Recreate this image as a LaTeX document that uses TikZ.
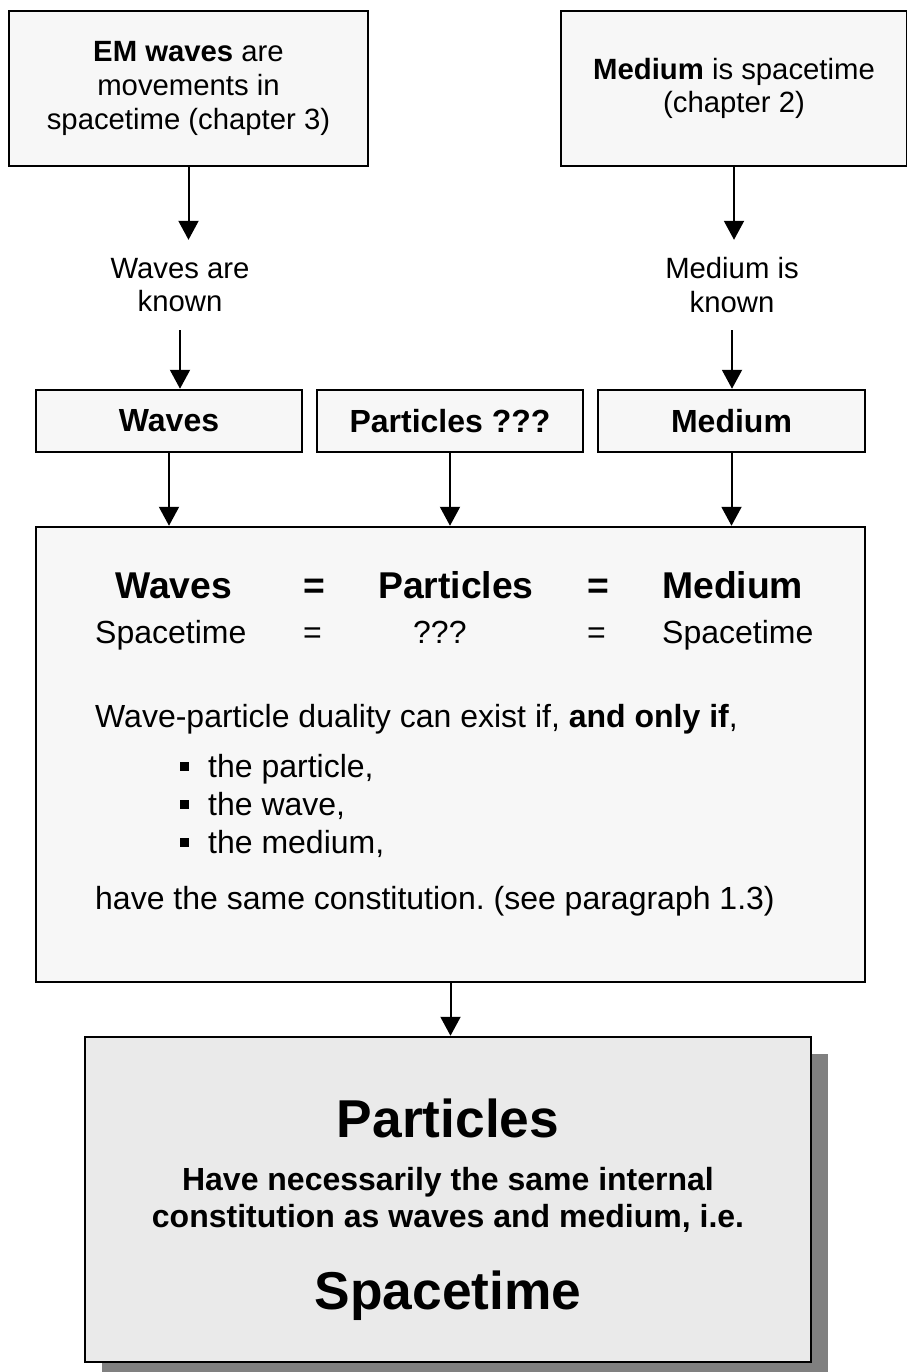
\documentclass[tikz,border=0pt]{standalone}
\usepackage{fontspec}
\setmainfont{Liberation Sans}
\usetikzlibrary{arrows.meta,shadows}
\definecolor{boxfill}{HTML}{F7F7F7}
\definecolor{bigfill}{HTML}{EAEAEA}
\definecolor{shadowgray}{HTML}{808080}
\newcommand{\fsA}{\fontsize{29.3pt}{33.7pt}\selectfont}
\newcommand{\fsB}{\fontsize{32pt}{36.8pt}\selectfont}
\newcommand{\fsC}{\fontsize{37.3pt}{43pt}\selectfont}
\newcommand{\fsD}{\fontsize{53.3pt}{61pt}\selectfont}
\newcommand{\sqbullet}{\makebox[28pt][l]{\raisebox{6pt}{\rule{9pt}{9pt}}}}
\frenchspacing
\begin{document}
\begin{tikzpicture}[x=1pt,y=-1pt,
  box/.style={draw=black,line width=2.5pt,fill=boxfill,inner sep=0pt},
  arr/.style={line width=2pt,-{Triangle[length=19pt,width=20pt]}},
  txt/.style={inner sep=0pt,anchor=base west},
  ctxt/.style={inner sep=0pt,anchor=base},
  lab/.style={minimum height=90pt,inner sep=0pt,align=center,font=\fsA}]
\useasboundingbox[fill=white] (0,0) rectangle (906,1372);

% top boxes
\node[box,minimum width=359pt,minimum height=155pt,align=center,font=\fsA] (em) at (188.5,88.5)
  {\textbf{EM waves} are\\movements in\\spacetime (chapter 3)};
\node[box,minimum width=346pt,minimum height=155pt,align=center,font=\fsA] (med) at (734,88.5)
  {\textbf{Medium} is spacetime\\(chapter 2)};

% labels
\node[lab] (lw) at (180,285) {Waves are\\known};
\node[lab] (lm) at (732,285) {Medium is\\known};

% row boxes
\node[box,minimum width=266pt,minimum height=62pt,font=\fsB\bfseries] (rw) at (169,421) {Waves};
\node[box,minimum width=266pt,minimum height=62pt,font=\fsB\bfseries] (rp) at (450,421) {Particles ???};
\node[box,minimum width=267pt,minimum height=62pt,font=\fsB\bfseries] (rm) at (731.5,421) {Medium};

% big box
\node[box,minimum width=829pt,minimum height=455pt] (big) at (450.5,754.5) {};

% bottom box
\node[box,fill=bigfill,minimum width=726pt,minimum height=325pt,
  drop shadow={shadow xshift=17pt,shadow yshift=-17pt,fill=shadowgray,opacity=1}] (part) at (448,1199.5) {};

% arrows
\draw[arr] (em.south) -- (em.south |- lw.north);
\draw[arr] (lw.south) -- (lw.south |- rw.north);
\draw[arr] (med.south) -- (med.south |- lm.north);
\draw[arr] (lm.south) -- (lm.south |- rm.north);
\draw[arr] (rw.south) -- (rw.south |- big.north);
\draw[arr] (rp.south) -- (rp.south |- big.north);
\draw[arr] (rm.south) -- (rm.south |- big.north);
\draw[arr] (big.south) -- (big.south |- part.north);

% big box text
\node[txt,font=\fsC\bfseries] (t1) at (115,598) {Waves};
\node[txt,font=\fsC\bfseries] (t2) at (303,598) {=};
\node[txt,font=\fsC\bfseries] (t3) at (378,598) {Particles};
\node[txt,font=\fsC\bfseries] (t4) at (587,598) {=};
\node[txt,font=\fsC\bfseries] (t5) at (662,598) {Medium};
\node[txt,font=\fsB] (s1) at (95,643) {Spacetime};
\node[txt,font=\fsB] (s2) at (303,643) {=};
\node[txt,font=\fsB] (s3) at (413,643) {???};
\node[txt,font=\fsB] (s4) at (587,643) {=};
\node[txt,font=\fsB] (s5) at (662,643) {Spacetime};
\node[txt,font=\fsB] (d1) at (95,727) {Wave-particle duality can exist if, \textbf{and only if},};
\node[txt,font=\fsB] (b1) at (180,777) {\sqbullet the particle,};
\node[txt,font=\fsB] (b2) at (180,815) {\sqbullet the wave,};
\node[txt,font=\fsB] (b3) at (180,853) {\sqbullet the medium,};
\node[txt,font=\fsB] (d2) at (95,909) {have the same constitution. (see paragraph 1.3)};

% bottom box text
\node[ctxt,font=\fsD\bfseries] (p1) at (448,1137) {Particles};
\node[ctxt,font=\fsB\bfseries] (p2) at (448,1190) {Have necessarily the same internal};
\node[ctxt,font=\fsB\bfseries] (p3) at (448,1227) {constitution as waves and medium, i.e.};
\node[ctxt,font=\fsD\bfseries] (p4) at (448,1309) {Spacetime};
\end{tikzpicture}
\end{document}
